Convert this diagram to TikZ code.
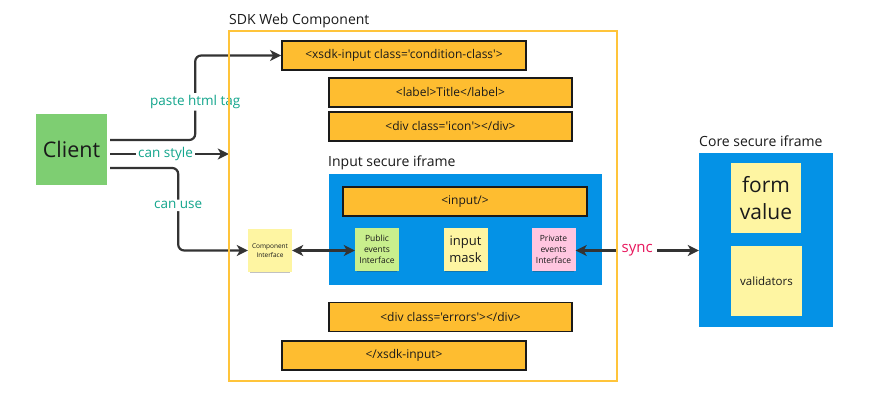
\documentclass[tikz,border=0pt]{standalone}
\usepackage{fontspec}
\setmainfont{Open Sans}[Ligatures=TeXOff]
\usetikzlibrary{arrows.meta,shadows}
\definecolor{tagor}{HTML}{FEBD30}
\definecolor{frameor}{HTML}{FFC43A}
\definecolor{iblue}{HTML}{0492E6}
\definecolor{sticky}{HTML}{FEF5A2}
\definecolor{cgreen}{HTML}{7ECE72}
\definecolor{pgreen}{HTML}{C9EF8D}
\definecolor{ppink}{HTML}{FFC6E0}
\definecolor{lteal}{HTML}{12A58C}
\definecolor{lsync}{HTML}{E8175D}
\definecolor{ink}{HTML}{1A1A1A}
\definecolor{arrc}{HTML}{333333}
\tikzset{
  tagbox/.style={draw=ink,line width=1.8pt,fill=tagor,inner sep=0pt,font=\fontsize{12}{14}\selectfont,text=ink,minimum width=#1,minimum height=29pt},
  tagbox/.default=243pt,
  stickynote/.style={fill=sticky,inner sep=0pt,align=center,text=ink,minimum width=44pt,minimum height=43pt,
    drop shadow={shadow xshift=0pt,shadow yshift=-3pt,shadow scale=0.92,opacity=0.3,fill=black!80}},
  iframebox/.style={fill=iblue,inner sep=0pt},
  title/.style={anchor=base west,inner sep=0pt,font=\fontsize{14}{16}\selectfont,text=ink},
  arr/.style={draw=arrc,line width=2.2pt,-{Stealth[length=11pt,width=11pt,inset=3pt]}},
  darr/.style={draw=arrc,line width=2.2pt,{Stealth[length=11pt,width=11pt,inset=3pt]}-{Stealth[length=11pt,width=11pt,inset=3pt]}},
  lbl/.style={fill=white,inner sep=2pt,text=lteal,font=\fontsize{13.5}{16}\selectfont},
}
\begin{document}
\begin{tikzpicture}[x=1pt,y=-1pt]
\useasboundingbox[fill=white] (0,0) rectangle (880,414);
% SDK frame placeholder (border drawn later)
\node[draw=none,minimum width=388pt,minimum height=350pt,inner sep=0pt] (sdk) at (423,206) {};
\node[title] (sdkt) at (229,25) {SDK Web Component};
% tag boxes
\node[tagbox=244pt] (xsdk) at (404,55.5) {<xsdk-input class='condition-class'>};
\node[tagbox] (lab) at (450.5,92.5) {<label>Title</label>};
\node[tagbox] (icon) at (450.5,126.5) {<div class='icon'></div>};
\node[title] (int) at (328,167) {Input secure iframe};
\node[iframebox,minimum width=273pt,minimum height=111pt] (inframe) at (465.5,229.5) {};
\node[tagbox=244pt] (inp) at (465,201.5) {<input/>};
\node[stickynote,fill=pgreen,font=\fontsize{8.5}{11}\selectfont] (pub) at (377,249.5) {Public\\events\\Interface};
\node[stickynote,font=\fontsize{13}{17}\selectfont] (mask) at (465.5,249.5) {input\\mask};
\node[stickynote,fill=ppink,font=\fontsize{8.5}{11}\selectfont] (priv) at (553.5,249.5) {Private\\events\\Interface};
\node[stickynote,font=\fontsize{6.5}{9}\selectfont] (comp) at (270,250.5) {Component\\Interface};
\node[tagbox] (err) at (450.5,317) {<div class='errors'></div>};
\node[tagbox=244pt] (xclose) at (404,355.5) {</xsdk-input>};
% core iframe
\node[title] (coret) at (699,147) {Core secure iframe};
\node[iframebox,minimum width=134pt,minimum height=174pt] (core) at (766,240) {};
\node[stickynote,minimum width=70pt,minimum height=70pt,font=\fontsize{21}{27}\selectfont] (form) at (766,198) {form\\value};
\node[stickynote,minimum width=71pt,minimum height=70pt,font=\fontsize{11.5}{14}\selectfont] (valid) at (766.5,281) {validators};
% client
\node[stickynote,fill=cgreen,minimum width=71pt,minimum height=71pt,font=\fontsize{21.5}{26}\selectfont] (client) at (71.5,149.5) {Client};
\coordinate (c1) at ([xshift=3pt,yshift=9.5pt]client.east);
\coordinate (c2) at ([xshift=3pt,yshift=-4.5pt]client.east);
\coordinate (c3) at ([xshift=3pt,yshift=-18.5pt]client.east);
% connectors
\draw[arr,rounded corners=6pt] (c1) -- ++(85,0) |- (xsdk.west) node[lbl,pos=0.225] {paste html tag};
\draw[arr] (c2) -- (sdk.west |- c2) node[lbl,midway,xshift=-4pt] {can style};
\draw[arr,rounded corners=6pt] (c3) -- ++(68,0) |- (comp.west) node[lbl,pos=0.226] {can use};
\draw[darr] (comp.east) -- (pub.west |- comp.east);
\draw[darr] (priv.east |- comp.east) -- (core.west |- comp.east) node[lbl,text=lsync,inner xsep=4pt,font=\fontsize{15}{18}\selectfont,pos=0.5] {sync};
% SDK frame border on top
\draw[draw=frameor,line width=1.5pt] (sdk.north west) rectangle (sdk.south east);
\end{tikzpicture}
\end{document}
